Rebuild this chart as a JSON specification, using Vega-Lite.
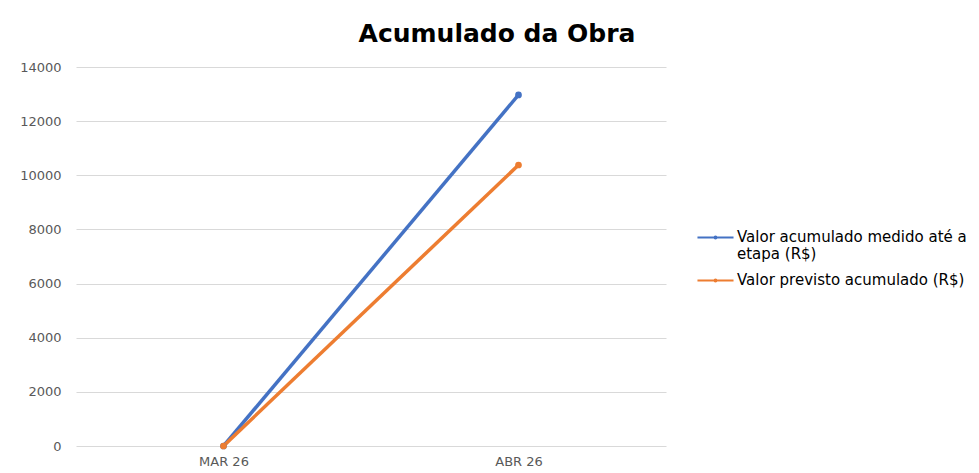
{
  "$schema": "https://vega.github.io/schema/vega-lite/v6.json",
  "autosize": "none",
  "width": 590,
  "height": 379,
  "padding": {"left": 76, "top": 67, "right": 313, "bottom": 27},
  "background": "white",
  "title": {
    "text": "Acumulado da Obra",
    "font": "DejaVu Sans",
    "fontSize": 25,
    "fontWeight": "bold",
    "color": "#000000",
    "anchor": "middle",
    "frame": "group",
    "dx": 126,
    "offset": 14
  },
  "config": {
    "view": {"stroke": null},
    "font": "DejaVu Sans"
  },
  "data": {
    "values": [
      {"mes": "MAR 26", "serie": "Valor acumulado medido até a etapa (R$)", "valor": 0},
      {"mes": "ABR 26", "serie": "Valor acumulado medido até a etapa (R$)", "valor": 12970},
      {"mes": "MAR 26", "serie": "Valor previsto acumulado (R$)", "valor": 0},
      {"mes": "ABR 26", "serie": "Valor previsto acumulado (R$)", "valor": 10380}
    ]
  },
  "mark": {"type": "line", "strokeWidth": 3.5, "point": {"size": 45, "filled": true}},
  "encoding": {
    "x": {
      "field": "mes",
      "type": "ordinal",
      "sort": ["MAR 26", "ABR 26"],
      "scale": {"type": "point", "padding": 0.5},
      "axis": {
        "title": null,
        "labelAngle": 0,
        "ticks": false,
        "domain": false,
        "grid": false,
        "labelFont": "DejaVu Sans",
        "labelFontSize": 13,
        "labelColor": "#595959",
        "labelPadding": 9
      }
    },
    "y": {
      "field": "valor",
      "type": "quantitative",
      "scale": {"domain": [0, 14000]},
      "axis": {
        "title": null,
        "values": [0, 2000, 4000, 6000, 8000, 10000, 12000, 14000],
        "format": "d",
        "ticks": false,
        "domain": false,
        "gridColor": "#d9d9d9",
        "gridWidth": 1,
        "labelFont": "DejaVu Sans",
        "labelFontSize": 13,
        "labelColor": "#595959",
        "labelPadding": 15
      }
    },
    "color": {
      "field": "serie",
      "type": "nominal",
      "scale": {"range": ["#4472C4", "#ED7D31"]},
      "legend": {
        "title": null,
        "orient": "none",
        "legendX": 621,
        "legendY": 152,
        "labelFont": "DejaVu Sans",
        "labelFontSize": 15,
        "labelColor": "#000000",
        "labelLimit": 300,
        "labelOffset": 3,
        "rowPadding": -3,
        "symbolSize": 1300,
        "symbolStrokeWidth": 0,
        "symbolType": "M-1,-0.05L1,-0.05L1,0.05L-1,0.05Z M0.11,0 A0.11,0.11 0 1 1 -0.11,0 A0.11,0.11 0 1 1 0.11,0Z",
        "labelExpr": "datum.label == 'Valor acumulado medido até a etapa (R$)' ? ['Valor acumulado medido até a', 'etapa (R$)'] : datum.label",
        "encode": {
          "symbols": {"update": {"fill": {"scale": "color", "field": "value"}, "fillOpacity": {"value": 1}}},
          "labels": {"update": {"baseline": {"value": "top"}, "dy": {"value": -8}, "lineHeight": {"value": 17}}}
        }
      }
    }
  }
}
